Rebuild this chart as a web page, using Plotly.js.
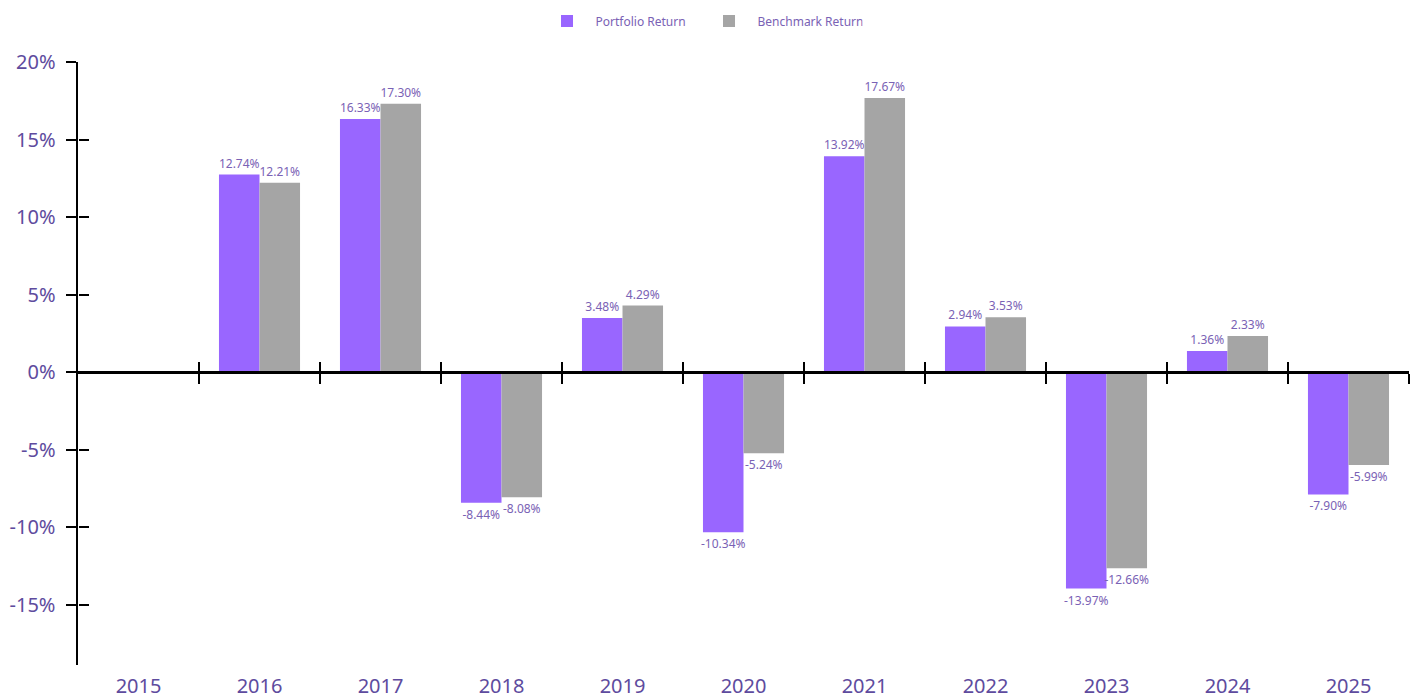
<!DOCTYPE html>
<html>
<head>
<meta charset="utf-8">
<script src="https://cdn.plot.ly/plotly-3.0.1.min.js"></script>
<style>html,body{margin:0;padding:0;background:#fff;}#chart{width:1421px;height:700px;}</style>
</head>
<body>
<div id="chart"></div>
<script>
const years = ['2015','2016','2017','2018','2019','2020','2021','2022','2023','2024','2025'];
const portfolioReturn = [null, 12.74, 16.33, -8.44, 3.48, -10.34, 13.92, 2.94, -13.97, 1.36, -7.90];
const benchmarkReturn = [null, 12.21, 17.30, -8.08, 4.29, -5.24, 17.67, 3.53, -12.66, 2.33, -5.99];
const seriesNames = ['Portfolio Return', 'Benchmark Return'];
const yTickValues = [-15, -10, -5, 0, 5, 10, 15, 20];

const yRange = [-18.9, 20];
const zeroFrac = (0 - yRange[0]) / (yRange[1] - yRange[0]);
const idx = years.map((_, i) => i);
const boundaries = years.map((_, i) => i + 0.5);
const fmt = v => v === null ? '' : v.toFixed(2) + '%';

const labelFont = {family: 'Noto Sans, sans-serif', size: 12, color: '#7A62B5'};

const traces = [
  {type: 'bar', name: seriesNames[0], x: years, y: portfolioReturn,
   marker: {color: '#9966FF'}, text: portfolioReturn.map(fmt), textposition: 'outside',
   textfont: labelFont, cliponaxis: false, constraintext: 'none', hoverinfo: 'x+y'},
  {type: 'bar', name: seriesNames[1], x: years, y: benchmarkReturn,
   marker: {color: '#A5A5A5'}, text: benchmarkReturn.map(fmt), textposition: 'outside',
   textfont: labelFont, cliponaxis: false, constraintext: 'none', hoverinfo: 'x+y'},
  // empty helper traces so the overlay axes (tick crosses, bottom labels) are drawn
  {type: 'scatter', x: [], y: [], xaxis: 'x2', yaxis: 'y', showlegend: false, hoverinfo: 'skip'},
  {type: 'scatter', x: [], y: [], xaxis: 'x3', yaxis: 'y', showlegend: false, hoverinfo: 'skip'},
  {type: 'scatter', x: [], y: [], xaxis: 'x4', yaxis: 'y', showlegend: false, hoverinfo: 'skip'},
  {type: 'scatter', x: [], y: [], xaxis: 'x', yaxis: 'y2', showlegend: false, hoverinfo: 'skip'}
];

const tickFont = {family: 'Noto Sans, sans-serif', size: 20, color: '#5E4B9E'};

const layout = {
  width: 1421, height: 700,
  margin: {l: 78, r: 12, t: 62, b: 35, autoexpand: false},
  paper_bgcolor: '#fff', plot_bgcolor: '#fff',
  barmode: 'group', bargap: 0.33, bargroupgap: 0,
  showlegend: true,
  legend: {orientation: 'h', x: 0.4677, xanchor: 'center', yref: 'container', y: 0.97, yanchor: 'middle',
           font: {family: 'Noto Sans, sans-serif', size: 12, color: '#7A62B5'},
           itemwidth: 47, entrywidth: 100, entrywidthmode: 'pixels'},
  xaxis: {type: 'category', range: [-0.5, 10.5], visible: false, fixedrange: true},
  xaxis2: {overlaying: 'x', anchor: 'free', position: zeroFrac, range: [-0.5, 10.5],
           showline: true, linecolor: '#000', linewidth: 2.5, zeroline: false, showgrid: false,
           tickmode: 'array', tickvals: boundaries, ticks: 'outside', ticklen: 10, tickwidth: 2,
           tickcolor: '#000', showticklabels: false},
  xaxis3: {overlaying: 'x', anchor: 'free', position: zeroFrac, range: [-0.5, 10.5],
           showline: false, zeroline: false, showgrid: false,
           tickmode: 'array', tickvals: boundaries, ticks: 'inside', ticklen: 10, tickwidth: 2,
           tickcolor: '#000', showticklabels: false},
  xaxis4: {overlaying: 'x', anchor: 'free', position: 0, range: [-0.5, 10.5],
           showline: false, zeroline: false, showgrid: false, ticks: '',
           tickmode: 'array', tickvals: idx, ticktext: years, tickfont: tickFont,
           ticklabelstandoff: 7},
  yaxis: {range: yRange, tickmode: 'array', tickvals: yTickValues, ticktext: yTickValues.map(v => v + '%'),
          showline: true, linecolor: '#000', linewidth: 2.5, zeroline: false, showgrid: false,
          ticks: 'outside', ticklen: 10, tickwidth: 2, tickcolor: '#000',
          tickfont: tickFont, ticklabelstandoff: 6, fixedrange: true},
  yaxis2: {overlaying: 'y', anchor: 'free', position: 0, side: 'left', range: yRange,
           tickmode: 'array', tickvals: yTickValues, showline: false, zeroline: false, showgrid: false,
           ticks: 'inside', ticklen: 10, tickwidth: 2, tickcolor: '#000', showticklabels: false}
};

Plotly.newPlot('chart', traces, layout, {displayModeBar: false, staticPlot: true});
</script>
</body>
</html>
